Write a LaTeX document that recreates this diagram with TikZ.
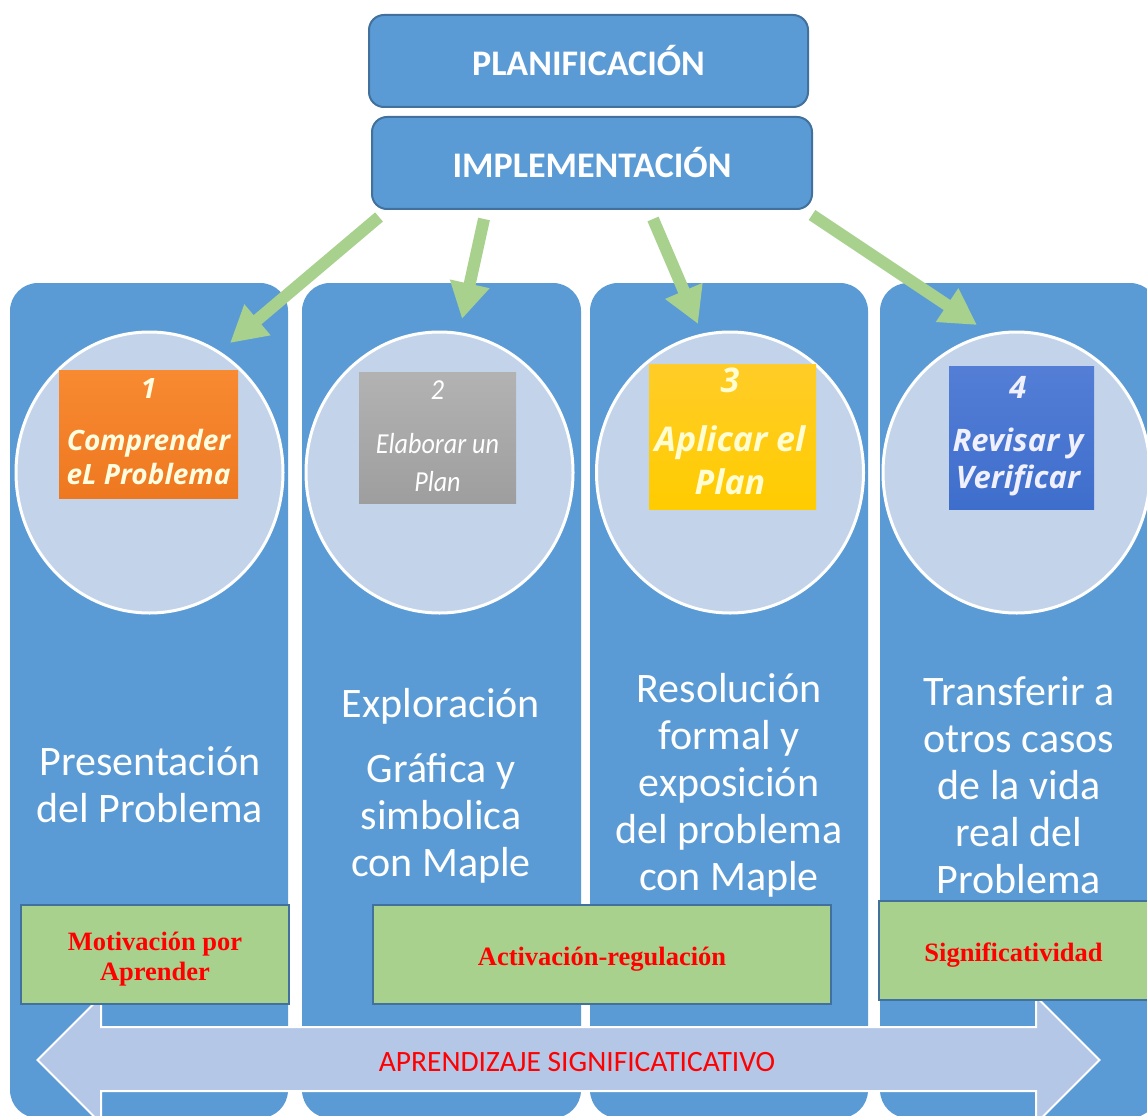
\documentclass[tikz,border=0pt]{standalone}
\usepackage{fontspec}
\setmainfont{Carlito}
\newfontfamily\timesf{Liberation Serif}
\newfontfamily\osans{Open Sans}
\newfontfamily\condit{Carlito}[FakeStretch=0.9]
\usetikzlibrary{arrows.meta,shapes.geometric}
\definecolor{colblue}{HTML}{5B9BD5}
\definecolor{edgeblue}{HTML}{41719C}
\definecolor{circfill}{HTML}{C3D4EA}
\definecolor{arrgreen}{HTML}{A9D18E}
\definecolor{dblfill}{HTML}{B4C7E7}
\definecolor{redtxt}{HTML}{FF0000}
\tikzset{
  column/.style={fill=colblue, draw=none, rounded corners=28pt, minimum width=278pt, minimum height=835pt, inner sep=0pt},
  disc/.style={ellipse, fill=circfill, draw=white, line width=3pt, minimum width=267pt, minimum height=281pt, inner sep=0pt},
  badge/.style={rectangle, draw=none, inner sep=0pt, align=center},
  badgetext/.style={align=center, inner sep=0pt},
  headbox/.style={rectangle, rounded corners=15pt, fill=colblue, draw=edgeblue, line width=2pt, minimum width=440pt, minimum height=92pt, text=white, font=\bfseries\fontsize{36}{40}\selectfont},
  coltext/.style={text=white, align=center, inner sep=0pt, font=\fontsize{42}{47}\selectfont},
  greenbox/.style={rectangle, fill=arrgreen, draw=edgeblue, line width=2.5pt, minimum height=99pt, inner sep=0pt},
  greenlabel/.style={align=center, text=redtxt, inner sep=0pt, yshift=-5pt, font=\timesf\bfseries\fontsize{26.5}{30}\selectfont},
  flowarrow/.style={draw=arrgreen, line width=12pt, -{Triangle[length=36pt,width=38pt]}}
}
\begin{document}
\begin{tikzpicture}[x=1pt,y=-1pt]
\useasboundingbox (0,0) rectangle (1147,1115);
\clip (0,0) rectangle (1147,1115);
\fill[white] (0,0) rectangle (1147,1115);

% columns
\node[column] (c1) at (149,700.5) {};
\node[column, minimum width=279pt] (c2) at (441.5,700.5) {};
\node[column] (c3) at (729,700.5) {};
\node[column] (c4) at (1019,700.5) {};

% circles
\node[disc] (d1) at (149.5,472.5) {};
\node[disc] (d2) at (439.5,472.5) {};
\node[disc] (d3) at (730,472.5) {};
\node[disc] (d4) at (1016.5,472.5) {};

% badges
\node[badge, minimum width=179pt, minimum height=128pt, top color={rgb,255:red,248;green,138;blue,50}, bottom color={rgb,255:red,238;green,120;blue,32}] (b1) at (148.5,434) {};
\node[badgetext, text={yellow!12}, font=\osans\bfseries\itshape\fontsize{28}{34}\selectfont] (b1t) at (148.5,431.5) {1\\[18pt]Comprender\\eL Problema};
\node[badge, minimum width=157pt, minimum height=131pt, top color=black!30, bottom color=black!38] (b2) at (437.5,437.5) {};
\node[badgetext, text=white, font=\condit\itshape\fontsize{29}{38}\selectfont] (b2t) at (437.5,436) {2\\[16pt]Elaborar un\\Plan};
\node[badge, minimum width=167pt, minimum height=145pt, top color={rgb,255:red,255;green,204;blue,40}, bottom color={rgb,255:red,255;green,204;blue,0}] (b3) at (732.5,436.5) {};
\node[badgetext, text={yellow!18}, font=\osans\bfseries\itshape\fontsize{34}{43}\selectfont] (b3t) at (730,431) {3\\[16pt]Aplicar el\\Plan};
\node[badge, minimum width=145pt, minimum height=143pt, top color={rgb,255:red,84;green,126;blue,214}, bottom color={rgb,255:red,62;green,110;blue,204}] (b4) at (1021.5,437.5) {};
\node[badgetext, text={blue!6}, font=\osans\bfseries\itshape\fontsize{31}{37}\selectfont] (b4t) at (1018,436) {4\\[16pt]Revisar y\\Verificar};

% column texts
\node[coltext] (t1) at (150,785) {Presentación\\del Problema};
\node[coltext] (t2a) at (441,706) {Exploración};
\node[coltext] (t2b) at (441,818) {Gráfica y\\simbolica\\con Maple};
\node[coltext] (t3) at (729,785) {Resolución\\formal y\\exposición\\del problema\\con Maple};
\node[coltext] (t4) at (1019,785) {Transferir a\\otros casos\\de la vida\\real del\\Problema};

% top boxes
\node[headbox, minimum width=439pt] (plan) at (588.5,61) {PLANIFICACIÓN};
\node[headbox] (impl) at (592,163) {IMPLEMENTACIÓN};

% green arrows
\coordinate (s1) at (379,217);
\coordinate (e1) at (230,343);
\coordinate (s2) at (484,219);
\coordinate (e2) at (462,319);
\coordinate (s3) at (653,219);
\coordinate (e3) at (698,324);
\coordinate (s4) at (812,215);
\coordinate (e4) at (977,325);
\draw[flowarrow] (s1) -- (e1);
\draw[flowarrow] (s2) -- (e2);
\draw[flowarrow] (s3) -- (e3);
\draw[flowarrow] (s4) -- (e4);

% double arrow
\draw[fill=dblfill, draw=white, line width=2pt, line join=miter]
  (37.5,1060) -- (101,996.5) -- (101,1027) -- (1036,1027) -- (1036,996.5) -- (1099.5,1060)
  -- (1036,1123.5) -- (1036,1091) -- (101,1091) -- (101,1123.5) -- cycle;
\node[text=redtxt, font=\fontsize{29.5}{32}\selectfont, inner sep=0pt] (apr) at (577,1062) {APRENDIZAJE SIGNIFICATICATIVO};

% green boxes
\node[greenbox, minimum width=268pt, label={[greenlabel]center:Motivación por\\Aprender}] (g1) at (155,954.5) {};
\node[greenbox, minimum width=458pt, label={[greenlabel]center:Activación-regulación}] (g2) at (602,954.5) {};
\node[greenbox, minimum width=269pt, label={[greenlabel]center:Significatividad}] (g3) at (1013.5,950.5) {};
\end{tikzpicture}
\end{document}
